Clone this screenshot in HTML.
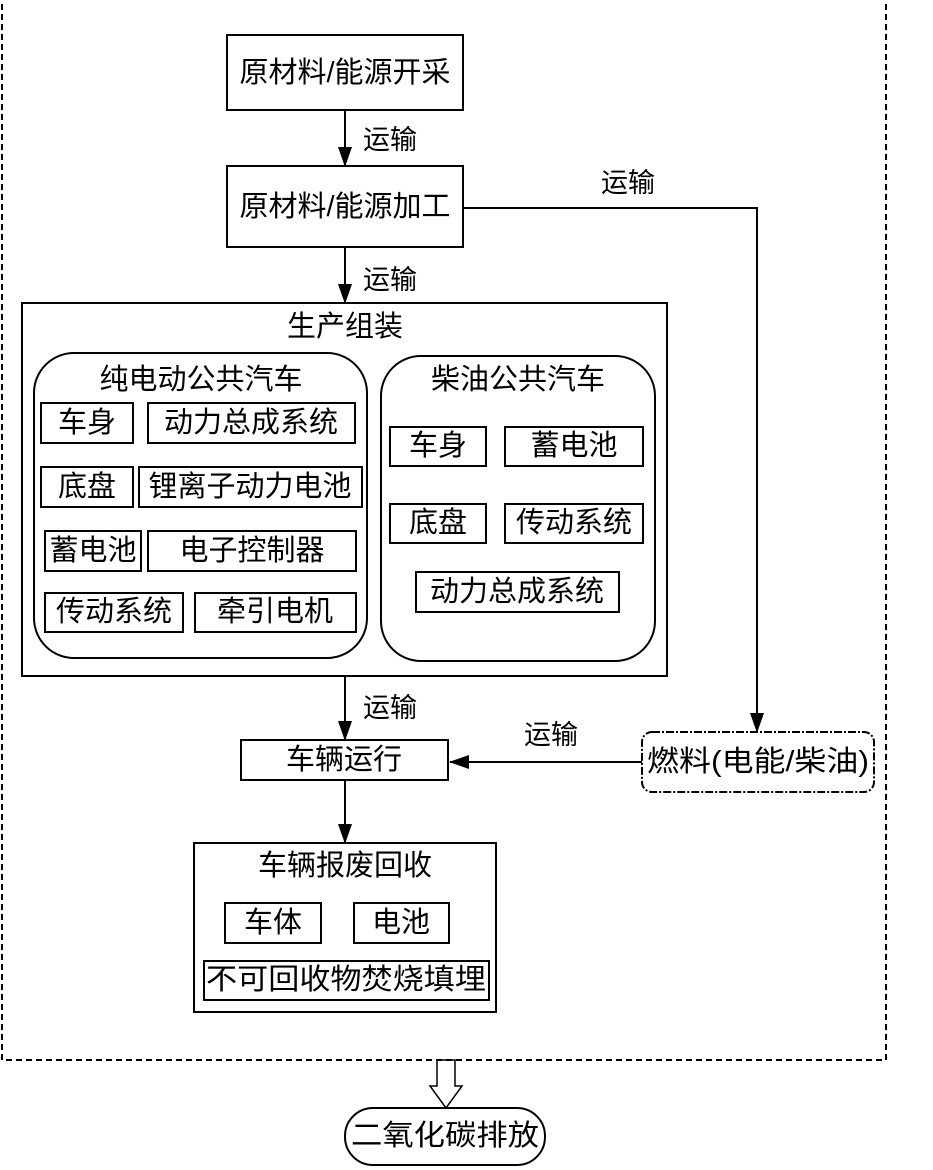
<!DOCTYPE html>
<html><head><meta charset="utf-8"><style>
html,body{margin:0;padding:0;background:#fff;}
svg{display:block;}
text{font-family:"Liberation Sans","Noto Sans CJK SC",sans-serif;font-size:29px;fill:#000;text-anchor:middle;dominant-baseline:central;}
.s{font-size:27px;}
</style></head><body>
<svg width="933" height="1170" viewBox="0 0 933 1170" xmlns="http://www.w3.org/2000/svg">
<defs><marker id="a" markerWidth="20" markerHeight="16" refX="19" refY="8" orient="auto" markerUnits="userSpaceOnUse"><path d="M0,1 L20,8 L0,15 z" fill="#000"/></marker></defs>
<g fill="none" stroke="#000" stroke-width="2">
<rect x="2" y="-2" width="884" height="1062" stroke-dasharray="6,4"/>
<rect x="227" y="35" width="236" height="75"/>
<rect x="227" y="166" width="236" height="81"/>
<rect x="22" y="303" width="645" height="373"/>
<rect x="34" y="353" width="333" height="305" rx="40"/>
<rect x="381" y="356" width="274" height="305" rx="40"/>
<rect x="41" y="403" width="92" height="40"/><rect x="148" y="403" width="207" height="40"/>
<rect x="41" y="467" width="92" height="40"/><rect x="139" y="467" width="223" height="40"/>
<rect x="45" y="531" width="96" height="40"/><rect x="148" y="531" width="208" height="40"/>
<rect x="45" y="593" width="138" height="39"/><rect x="195" y="593" width="161" height="39"/>
<rect x="390" y="427" width="96" height="39"/><rect x="505" y="427" width="138" height="39"/>
<rect x="390" y="504" width="96" height="39"/><rect x="505" y="504" width="138" height="39"/>
<rect x="416" y="572" width="203" height="40"/>
<rect x="241" y="740" width="207" height="40"/>
<rect x="642" y="732" width="232" height="60" rx="10" stroke-dasharray="8,2,2,2"/>
<rect x="194" y="843" width="302" height="169"/>
<rect x="225" y="903" width="96" height="40"/><rect x="354" y="903" width="95" height="40"/>
<rect x="204" y="961" width="285" height="39"/>
<rect x="345" y="1108" width="200" height="57" rx="28"/>
<path d="M345,110 V166" marker-end="url(#a)"/>
<path d="M345,247 V303" marker-end="url(#a)"/>
<path d="M463,208 H757 V732" marker-end="url(#a)"/>
<path d="M345,676 V740" marker-end="url(#a)"/>
<path d="M642,762 H450" marker-end="url(#a)"/>
<path d="M345,780 V843" marker-end="url(#a)"/>
<path d="M437,1060 V1086 H430 L446,1108 L462,1086 H455 V1060 Z" stroke-width="1.5"/>
</g>
<text x="345" y="73">原材料/能源开采</text>
<text x="345" y="207">原材料/能源加工</text>
<text x="390" y="140" class="s">运输</text>
<text x="390" y="280" class="s">运输</text>
<text x="628" y="183" class="s">运输</text>
<text x="390" y="708" class="s">运输</text>
<text x="551" y="735" class="s">运输</text>
<text x="345" y="327">生产组装</text>
<text x="201" y="380">纯电动公共汽车</text>
<text x="518" y="380">柴油公共汽车</text>
<text x="87" y="423">车身</text><text x="251" y="423">动力总成系统</text>
<text x="87" y="487">底盘</text><text x="250" y="487">锂离子动力电池</text>
<text x="93" y="551">蓄电池</text><text x="252" y="551">电子控制器</text>
<text x="114" y="612">传动系统</text><text x="275" y="612">牵引电机</text>
<text x="438" y="446">车身</text><text x="574" y="446">蓄电池</text>
<text x="438" y="523">底盘</text><text x="574" y="523">传动系统</text>
<text x="517" y="592">动力总成系统</text>
<text x="344" y="760">车辆运行</text>
<text x="758" y="762" textLength="222" lengthAdjust="spacingAndGlyphs">燃料(电能/柴油)</text>
<text x="345" y="866">车辆报废回收</text>
<text x="273" y="923">车体</text><text x="401" y="923">电池</text>
<text x="346" y="980" textLength="280" lengthAdjust="spacingAndGlyphs">不可回收物焚烧填埋</text>
<text x="445" y="1136" textLength="188" lengthAdjust="spacingAndGlyphs">二氧化碳排放</text>
</svg>
</body></html>
